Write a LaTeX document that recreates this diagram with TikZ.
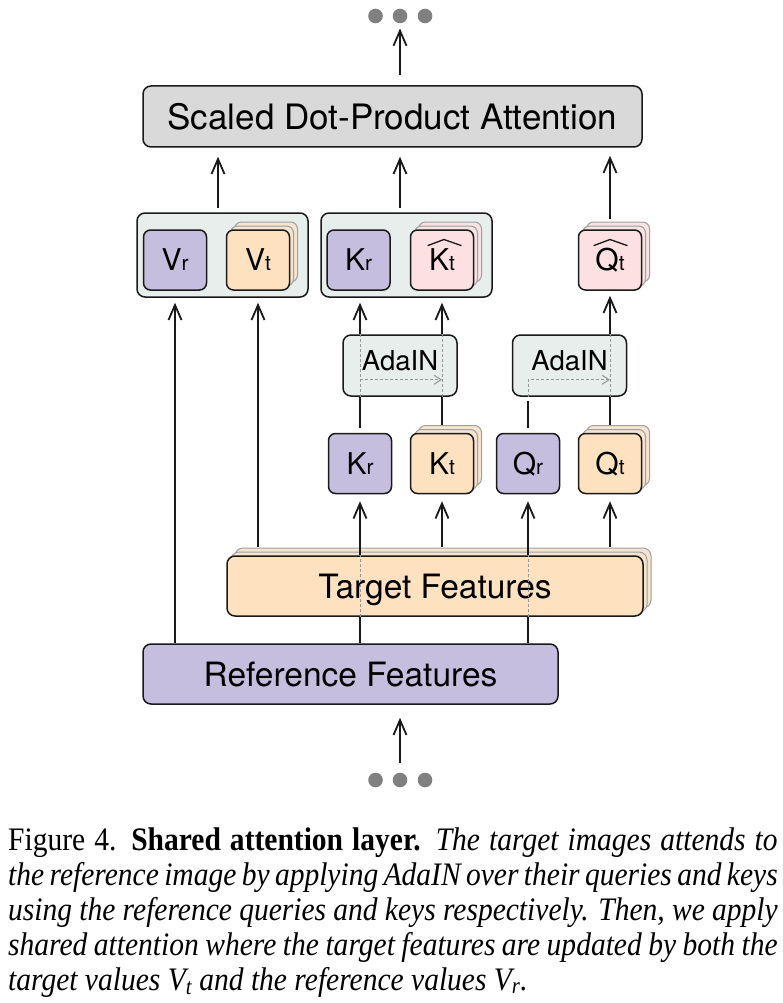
\documentclass[tikz,border=0pt]{standalone}
\usepackage{graphicx}
\usepackage{fontspec}
\setsansfont{TeX Gyre Heros}
\newfontfamily\capfont{Liberation Serif}
\usetikzlibrary{arrows.meta,calc}
\definecolor{lav}{RGB}{197,190,222}
\definecolor{peach}{RGB}{254,226,191}
\definecolor{backpeach}{RGB}{245,229,208}
\definecolor{pinkc}{RGB}{253,224,226}
\definecolor{backpink}{RGB}{246,228,228}
\definecolor{grpc}{RGB}{232,238,236}
\definecolor{sdpac}{RGB}{217,217,217}
\definecolor{edgec}{RGB}{25,25,25}
\definecolor{dotc}{RGB}{128,128,128}
\definecolor{dashc}{RGB}{150,150,150}
\newcommand\lab[2]{{\fontsize{30}{30}\selectfont #1}{\fontsize{21}{21}\selectfont #2}}
\newcommand\stk[3][]{%
  \node[backbox,#1,fill=#3,xshift=8pt,yshift=8pt] at (#2) {};
  \node[backbox,#1,fill=#3,xshift=4pt,yshift=4pt] at (#2) {};}
\begin{document}
\begin{tikzpicture}[x=1pt,y=-1pt,
  box/.style={draw=edgec, line width=1.5pt, rounded corners=8pt, inner sep=0pt, text depth=0pt, font=\sffamily},
  bigbox/.style={box, minimum height=61pt, font=\sffamily\fontsize{33.5}{40}\selectfont},
  grp/.style={box, fill=grpc, minimum width=171pt, minimum height=84pt},
  tok/.style={box, minimum width=63pt, minimum height=60pt, rounded corners=7pt, text height=21.5pt},
  backbox/.style={tok, draw=gray!75, line width=1pt},
  ada/.style={box, fill=grpc, minimum width=114pt, minimum height=61pt},
  dotn/.style={circle, fill=dotc, inner sep=0pt, minimum size=14.6pt},
  conn/.style={line width=1.8pt, draw=edgec},
  arr/.style={conn, -{Straight Barb[length=15pt,width=13pt,line width=1.8pt]}},
  dashln/.style={draw=dashc, line width=1pt, dash pattern=on 3pt off 2pt},
  dasharr/.style={dashln, -{Straight Barb[length=7pt,width=9pt,line width=1pt]}},
  hatln/.style={draw=edgec, line width=1.3pt, line cap=round, line join=round},
]
\useasboundingbox (0,0) rectangle (783,1003);

% dots
\foreach \i/\x in {1/375.5,2/400,3/425} {
  \node[dotn] (t\i) at (\x,16) {};
  \node[dotn] (b\i) at (\x,780) {};
}

% attention block
\node[bigbox, fill=sdpac, minimum width=499pt, font=\sffamily\fontsize{35}{40}\selectfont] (sdpa) at (392.5,116.5) {Scaled Dot-Product Attention};

% groups
\node[grp] (gL) at (222.5,255) {};
\node[grp] (gR) at (406.5,255) {};
\node[tok, fill=lav] (Vr) at (175,260) {\lab{V}{r}};
\stk{258,260}{backpeach}
\node[tok, fill=peach] (Vt) at (258,260) {\lab{V}{t}};
\node[tok, fill=lav] (Kr) at (358.5,260) {\lab{K}{r}};
\stk{442,260}{backpink}
\node[tok, fill=pinkc] (Kh) at (442,260) {\lab{K}{t}};
\stk{610,260}{backpink}
\node[tok, fill=pinkc] (Qh) at (610,260) {\lab{Q}{t}};
% hats
\draw[hatln] ($(Kh.center)+(-14,-14.5)$) .. controls ($(Kh.center)+(-6,-18)$) .. ($(Kh.center)+(2,-20.5)$) .. controls ($(Kh.center)+(10,-18)$) .. ($(Kh.center)+(19,-14.5)$);
\draw[hatln] ($(Qh.center)+(-16,-14.5)$) .. controls ($(Qh.center)+(-8,-18)$) .. ($(Qh.center)+(0,-20.5)$) .. controls ($(Qh.center)+(8,-18)$) .. ($(Qh.center)+(17,-14.5)$);

% AdaIN
\node[ada, label={[font=\sffamily\fontsize{27.5}{28}\selectfont, yshift=4.5pt]center:AdaIN}] (AdaL) at (400,365.5) {};
\node[ada, label={[font=\sffamily\fontsize{27.5}{28}\selectfont, yshift=4.5pt]center:AdaIN}] (AdaR) at (569.5,365.5) {};

% lower tokens
\node[tok, fill=lav] (KrL) at (360,463.5) {\lab{K}{r}};
\stk{442,463.5}{backpeach}
\node[tok, fill=peach] (KtL) at (442,463.5) {\lab{K}{t}};
\node[tok, fill=lav] (QrL) at (528,463.5) {\lab{Q}{r}};
\stk{610,463.5}{backpeach}
\node[tok, fill=peach] (QtL) at (610,463.5) {\lab{Q}{t}};

% features
\stk[minimum width=416pt, rounded corners=8pt]{435,586}{backpeach}
\node[bigbox, fill=peach, minimum width=416pt, minimum height=60pt] (Tgt) at (435,586) {Target Features};
\node[bigbox, fill=lav, minimum width=415pt, minimum height=60pt] (Ref) at (350.5,674) {Reference Features};

% helper coordinates
\coordinate (gLtop) at ([xshift=-4.5pt]gL.north);
\coordinate (gRtop) at ([xshift=-6.5pt]gR.north);
\coordinate (TgtTop) at ([yshift=8pt]Tgt.north);

% top connectors
\draw[arr, shorten <=10pt, shorten >=5pt] (sdpa.north -| t2) -- (t2.south);
\draw[arr, shorten <=4pt, shorten >=9pt] (gLtop) -- (gLtop |- sdpa.south);
\draw[arr, shorten <=4pt, shorten >=9pt] (gRtop) -- (gRtop |- sdpa.south);
\draw[arr, shorten <=2pt, shorten >=8pt] ([yshift=8pt]Qh.north) -- (Qh.north |- sdpa.south);

% bottom connector
\draw[arr, shorten <=10pt, shorten >=13pt] (b2.north) -- (b2 |- Ref.south);

% values
\draw[arr, shorten >=5pt] (Ref.north -| Vr) -- (gL.south -| Vr);
\draw[arr, shorten >=5pt] (TgtTop -| Vt) -- (gL.south -| Vt);

% keys reference
\draw[arr, shorten >=7pt] (Tgt.north -| KrL) -- (KrL.south);
\draw[conn] (Ref.north -| KrL) -- (Tgt.south -| KrL);
\draw[dashln] (Tgt.south -| KrL) -- (Tgt.north -| KrL);
\draw[conn] ([yshift=5pt]KrL.north) -- (AdaL.south -| KrL);
\draw[dashln] (AdaL.south -| KrL) -- (AdaL.north -| KrL);
\draw[arr, shorten >=5pt] (AdaL.north -| KrL) -- (gR.south -| KrL);
\draw[dasharr] ($(AdaL.south -| KrL)+(0,-17)$) -- ($(AdaL.south -| KtL)+(0,-17)$);

% keys target
\draw[arr, shorten >=7pt] (TgtTop -| KtL) -- (KtL.south);
\draw[conn] ([yshift=8pt]KtL.north) -- (AdaL.south -| KtL);
\draw[dashln] (AdaL.south -| KtL) -- (AdaL.north -| KtL);
\draw[arr, shorten >=5pt] (AdaL.north -| KtL) -- (gR.south -| KtL);

% queries reference
\draw[arr, shorten >=7pt] (Tgt.north -| QrL) -- (QrL.south);
\draw[conn] (Ref.north -| QrL) -- (Tgt.south -| QrL);
\draw[dashln] (Tgt.south -| QrL) -- (Tgt.north -| QrL);
\draw[conn] ([yshift=5pt]QrL.north) -- ($(AdaR.south -| QrL)+(0,4)$);
\draw[dasharr] (AdaR.south -| QrL) -- ($(AdaR.south -| QrL)+(0,-17)$) -- ($(AdaR.south -| QtL)+(0,-17)$);

% queries target
\draw[arr, shorten >=7pt] (TgtTop -| QtL) -- (QtL.south);
\draw[conn] ([yshift=8pt]QtL.north) -- (AdaR.south -| QtL);
\draw[dashln] (AdaR.south -| QtL) -- (AdaR.north -| QtL);
\draw[arr, shorten >=5pt] (AdaR.north -| QtL) -- (Qh.south);

% caption
\node[anchor=base west, inner sep=0pt] (cap) at (8,850) {\scalebox{0.9}[1]{\parbox[t]{855pt}{\capfont\fontsize{32.8}{35}\selectfont
Figure 4.\hskip0.5em \textbf{Shared attention layer.} \textit{The target images attends to\linebreak
the reference image by applying AdaIN over their queries and keys\linebreak
using the reference queries and keys respectively. Then, we apply\linebreak
shared attention where the target features are updated by both the\linebreak
target values \textit{V}\textsubscript{\textit{t}} and the reference values \textit{V}\textsubscript{\textit{r}}.}}}};
\end{tikzpicture}
\end{document}
